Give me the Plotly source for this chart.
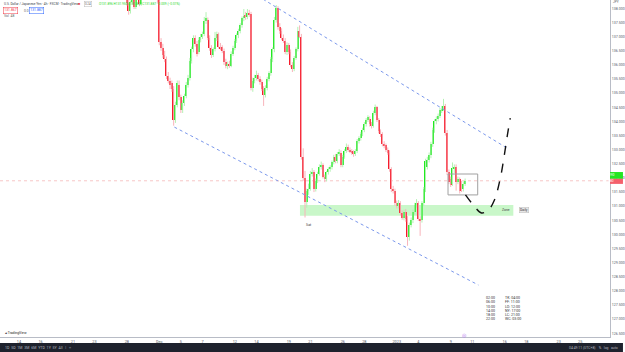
import plotly.graph_objects as go

# ---------------- data (USD/JPY, 4h bars) ----------------
first_bar = 58  # bar index of first candle (bar 0 = Nov 14 00:00, 6 bars per trading day)

opens = [139.05,138.70,138.45,138.20,137.90,138.22,138.48,138.05,138.40,138.72,
         138.15,138.60,138.92,139.25,139.40,139.30,139.50,139.60,139.35,138.65,
         138.30,136.80,136.60,136.35,136.20,135.60,135.45,135.35,135.15,134.05,
         134.60,135.30,134.85,134.40,134.65,134.90,135.30,135.55,136.15,136.55,
         136.95,136.75,136.45,136.90,137.00,137.10,137.55,137.60,136.95,136.60,
         136.35,136.55,136.95,137.10,136.65,136.62,136.50,136.10,135.95,136.05,
         135.98,136.40,136.60,136.85,137.05,137.20,137.40,137.65,137.75,137.70,
         137.85,137.80,135.20,135.45,135.55,135.65,135.50,135.40,135.15,134.95,
         135.20,135.50,135.70,136.20,136.55,137.60,138.00,137.35,137.20,136.95,
         136.85,136.45,136.70,136.45,136.00,135.85,136.25,136.55,137.20,137.00,
         132.75,132.00,131.15,131.55,131.62,132.15,132.20,131.60,131.90,132.15,
         132.40,132.45,132.05,131.95,132.20,132.30,132.38,132.55,132.75,132.60,
         132.85,132.90,132.45,132.75,132.95,133.10,133.00,132.95,132.90,132.85,
         132.95,133.30,133.40,133.55,133.70,133.90,134.05,134.10,133.90,133.85,
         134.30,134.50,134.05,133.65,133.55,133.20,133.15,133.00,132.90,132.30,
         131.60,131.55,131.10,131.00,131.10,130.75,130.60,130.80,130.55,129.90,
         130.35,130.50,130.80,131.05,131.10,130.55,130.50,131.10,131.60,132.40,
         132.65,132.80,133.20,133.70,134.00,134.10,134.20,134.40,134.45,134.55,
         133.60,132.20,131.95,131.80,132.35,132.40,131.85,131.95,131.80,131.60,
         131.80]
highs = [139.15,138.80,138.55,138.30,138.28,138.55,138.55,138.45,138.80,138.80,
         138.65,139.00,139.35,139.55,139.70,139.60,139.85,139.80,139.45,138.75,
         138.40,136.95,136.75,136.50,136.30,135.75,135.55,135.45,135.25,134.70,
         135.45,135.45,134.95,134.75,134.98,135.40,135.65,136.25,136.65,137.05,
         137.05,136.85,136.98,137.10,137.18,137.70,137.87,137.68,137.05,136.70,
         136.62,137.17,137.18,137.15,136.78,136.70,136.58,136.22,136.12,136.15,
         136.48,136.68,136.92,137.12,137.28,137.48,137.72,137.98,137.88,137.98,
         137.95,137.88,135.55,135.65,135.80,135.72,135.60,135.48,135.25,135.28,
         135.58,135.78,136.28,136.62,137.70,138.12,138.08,137.48,137.30,137.08,
         136.95,136.80,136.78,136.55,136.10,136.32,136.62,137.35,137.40,137.10,
         133.05,132.25,131.62,131.80,132.25,132.35,132.28,131.98,132.22,132.48,
         132.58,132.52,132.12,132.25,132.38,132.45,132.62,132.82,132.85,132.92,
         133.02,132.98,132.82,133.02,133.22,133.18,133.08,133.02,132.98,133.02,
         133.38,133.48,133.62,133.78,133.98,134.12,134.22,134.18,133.98,134.38,
         134.60,134.55,134.12,133.72,133.62,133.30,133.22,133.08,132.98,132.38,
         131.72,131.62,131.20,131.22,131.18,130.85,130.88,130.90,130.65,130.42,
         130.60,130.88,131.12,131.25,131.18,130.65,131.18,131.68,132.68,132.75,
         132.90,133.28,133.78,134.08,134.18,134.28,134.48,134.55,134.80,134.62,
         133.70,132.30,132.05,132.55,132.48,132.48,132.05,132.02,131.90,131.88,
         131.98]
lows = [138.60,138.35,138.10,137.78,137.82,138.15,137.98,137.98,138.32,138.08,
        138.10,138.50,138.85,139.10,139.20,139.15,139.35,139.20,138.55,138.20,
        136.70,136.50,136.25,136.10,135.50,135.35,135.15,135.05,133.85,133.95,
        134.50,134.75,134.30,134.30,134.55,134.82,135.20,135.45,136.05,136.45,
        136.65,136.30,136.38,136.80,136.92,137.02,137.45,136.88,136.50,136.25,
        136.28,136.48,136.85,136.58,136.52,136.42,136.00,135.88,135.85,135.90,
        135.92,136.32,136.52,136.78,136.95,137.12,137.32,137.55,137.60,137.62,
        137.70,135.10,135.05,135.35,135.45,135.42,135.30,135.08,134.55,134.85,
        135.10,135.42,135.62,136.10,136.45,137.50,137.25,137.10,136.88,136.78,
        136.38,136.35,136.38,135.92,135.75,135.78,136.18,136.48,136.95,132.65,
        131.90,130.60,130.95,131.40,131.55,132.05,131.50,131.52,131.82,132.08,
        132.30,131.98,131.85,131.88,132.12,132.22,132.30,132.48,132.52,132.52,
        132.78,132.38,132.38,132.68,132.88,132.92,132.88,132.82,132.75,132.78,
        132.88,133.22,133.32,133.48,133.62,133.82,133.98,133.82,133.75,133.78,
        134.22,133.98,133.58,133.45,133.12,133.05,132.92,132.82,132.22,131.50,
        131.45,131.02,130.92,130.92,130.68,130.52,130.50,130.45,129.60,129.78,
        130.25,130.40,130.70,130.95,130.48,129.95,130.42,131.00,131.50,132.30,
        132.55,132.70,133.10,133.60,133.90,134.00,134.12,134.30,134.38,133.50,
        132.10,131.78,131.68,131.72,132.18,131.55,131.78,131.45,131.50,131.52,
        131.72]
closes = [138.70,138.45,138.20,137.90,138.22,138.48,138.05,138.40,138.72,138.15,
          138.60,138.92,139.25,139.40,139.30,139.50,139.60,139.35,138.65,138.30,
          136.80,136.60,136.35,136.20,135.60,135.45,135.30,135.15,134.05,134.60,
          135.35,134.85,134.40,134.65,134.90,135.30,135.55,136.15,136.55,136.95,
          136.75,136.40,136.90,137.00,137.10,137.55,137.65,136.95,136.60,136.35,
          136.55,136.95,137.10,136.65,136.60,136.50,136.10,135.95,136.05,135.98,
          136.40,136.60,136.85,137.05,137.20,137.40,137.65,137.75,137.70,137.85,
          137.80,135.20,135.45,135.55,135.65,135.50,135.40,135.15,134.95,135.20,
          135.50,135.70,136.20,136.55,137.60,138.00,137.35,137.20,136.95,136.85,
          136.45,136.70,136.45,136.00,135.85,136.25,136.55,137.20,137.00,132.75,
          132.00,131.15,131.55,131.62,132.15,132.20,131.60,131.90,132.15,132.40,
          132.45,132.05,131.95,132.20,132.30,132.38,132.55,132.75,132.60,132.85,
          132.90,132.45,132.75,132.95,133.10,133.00,132.95,132.90,132.85,132.95,
          133.30,133.40,133.55,133.70,133.90,134.05,134.15,133.90,133.85,134.30,
          134.50,134.05,133.65,133.55,133.20,133.15,133.00,132.90,132.30,131.60,
          131.55,131.10,131.00,131.10,130.75,130.60,130.80,130.55,129.90,130.35,
          130.50,130.80,131.05,131.10,130.55,130.50,131.10,131.60,132.60,132.65,
          132.80,133.20,133.70,134.00,134.10,134.20,134.40,134.45,134.55,133.60,
          132.20,131.85,131.75,132.35,132.40,131.85,131.95,131.55,131.60,131.80,
          131.90]

# time axis: trading-day index of each label and its text
tick_days = [0, 2, 5, 7, 10, 13, 15, 17, 20, 22, 25, 27, 30, 32, 35, 37, 40, 42, 45, 47, 50, 52]
tick_text = ["14", "16", "21", "23", "28", "Dec", "5", "7", "12", "14", "19", "21",
             "26", "28", "2023", "4", "9", "11", "16", "18", "23", "25"]
bars_per_day = 6

# drawings (bar index, price)
upper_line_x = [130.0, 272.0]
upper_line_y = [138.55, 133.03]
lower_line_x = [86.4, 255.4]
lower_line_y = [133.80, 128.21]
zone_x = [156.2, 274.8]
zone_y = [130.66, 131.04]
box_x = [238.5, 255.0]
box_y = [131.40, 132.14]
path_x = [248.2, 252.6, 257.1, 261.0, 264.3, 267.6, 269.8, 271.5, 273.1]
path_y = [131.40, 131.04, 130.76, 130.87, 131.22, 132.00, 132.81, 133.52, 134.12]
last_price = 131.90
label_prices = [132.09, 131.88]
low_note = (161.2, 130.34, "Sat")

session_left = ["02:00", "06:00", "10:00", "14:00", "18:00", "22:00"]
session_right = ["TK: 04:00", "FF: 11:00", "LO: 12:00", "NY: 17:00", "LC: 21:00", "WC: 03:00"]

# ---------------- figure ----------------
W, H = 625, 352
PLOT_R, PLOT_B = 612, 337
X0_PX, PX_PER_BAR = 19.0, 1.805
x_lo = -X0_PX / PX_PER_BAR
x_hi = (PLOT_R - X0_PX) / PX_PER_BAR
y_lo, y_hi = 126.37, 138.30

def px(x):  # pixel x -> paper
    return x / PLOT_R

def py(y):  # pixel y -> paper
    return (PLOT_B - y) / PLOT_B

UP, DN = "#1fea1f", "#f71b2b"
UP_W, DN_W = "#b4f2b4", "#f8b4bb"
FONT = "Roboto"

idx = [first_bar + k for k in range(len(closes))]
up = [c >= o for o, c in zip(opens, closes)]

fig = go.Figure()

# wicks
for flag, col in ((True, UP_W), (False, DN_W)):
    wx, wy = [], []
    for i, h, l, u in zip(idx, highs, lows, up):
        if u == flag:
            wx += [i, i, None]
            wy += [l, h, None]
    fig.add_trace(go.Scatter(x=wx, y=wy, mode="lines", line=dict(color=col, width=1),
                             hoverinfo="skip", showlegend=False))

# bodies
base = [min(o, c) for o, c in zip(opens, closes)]
hgt = [max(abs(c - o), 0.03) for o, c in zip(opens, closes)]
fig.add_trace(go.Bar(x=idx, y=hgt, base=base, width=0.78,
                     marker=dict(color=[UP if u else DN for u in up], line=dict(width=0)),
                     hoverinfo="skip", showlegend=False))

# trend lines
for lx, ly in ((upper_line_x, upper_line_y), (lower_line_x, lower_line_y)):
    fig.add_trace(go.Scatter(x=lx, y=ly, mode="lines",
                             line=dict(color="#7b98ec", width=1, dash="dot"),
                             hoverinfo="skip", showlegend=False))

# box
fig.add_trace(go.Scatter(x=[box_x[0], box_x[1], box_x[1], box_x[0], box_x[0]],
                         y=[box_y[0], box_y[0], box_y[1], box_y[1], box_y[0]],
                         mode="lines", line=dict(color="#a0a0a0", width=1),
                         hoverinfo="skip", showlegend=False))

# projected path
fig.add_trace(go.Scatter(x=path_x, y=path_y, mode="lines",
                         line=dict(color="#111111", width=1.4, dash="dash", shape="spline"),
                         hoverinfo="skip", showlegend=False))

shapes = [
    dict(type="rect", xref="x", yref="y", x0=zone_x[0], x1=zone_x[1], y0=zone_y[0], y1=zone_y[1],
         fillcolor="#c9f7c9", line=dict(width=0), layer="below"),
    dict(type="line", xref="paper", yref="y", x0=0, x1=1, y0=last_price, y1=last_price,
         line=dict(color="#f7c6c6", width=1, dash="dot"), layer="below"),
    # price labels on axis
    dict(type="rect", xref="paper", yref="y", x0=1.0, x1=W / PLOT_R,
         y0=label_prices[0] - 0.12, y1=label_prices[0] + 0.12, fillcolor="#22e622", line=dict(width=0)),
    dict(type="rect", xref="paper", yref="y", x0=1.0, x1=W / PLOT_R,
         y0=label_prices[1] - 0.09, y1=label_prices[1] + 0.09, fillcolor="#f4606c", line=dict(width=0)),
    # bottom toolbar
    dict(type="rect", xref="paper", yref="paper", x0=0, x1=W / PLOT_R, y0=py(352), y1=py(343),
         fillcolor="#1e222d", line=dict(width=0)),
]

anns = []
def txt(x, y, s, size=4, color="#555a66", xanchor="left", **kw):
    anns.append(dict(x=px(x), y=py(y), xref="paper", yref="paper", text=s, showarrow=False,
                     xanchor=xanchor, yanchor="middle", font=dict(size=size, color=color, family=FONT), **kw))

# header legend
txt(2, 4, "U.S. Dollar / Japanese Yen · 4h · FXCM · TradingView", size=3.2, color="#3a3f4b")
anns.append(dict(x=px(76), y=py(4), xref="paper", yref="paper", text="■", showarrow=False,
                 font=dict(size=3.6, color="#f23645"), xanchor="left", yanchor="middle"))
anns.append(dict(x=px(84), y=py(4), xref="paper", yref="paper", text="0.24", showarrow=False,
                 font=dict(size=3.0, color="#666"), xanchor="left", yanchor="middle",
                 bordercolor="#bbbbbb", borderwidth=0.5, borderpad=0.4))
txt(97, 4, "O131.896 H131.950 L131.822 C131.887 −0.009 (−0.01%)", size=3.2, color="#27d827")
anns.append(dict(x=px(3), y=py(10.5), xref="paper", yref="paper", text="131.867", showarrow=False,
                 font=dict(size=3.4, color="#f23645"), xanchor="left", yanchor="middle",
                 bordercolor="#f23645", borderwidth=0.5, borderpad=0.8))
txt(22, 10.5, "0.0", size=3.4, color="#666")
anns.append(dict(x=px(29), y=py(10.5), xref="paper", yref="paper", text="131.887", showarrow=False,
                 font=dict(size=3.4, color="#2962ff"), xanchor="left", yanchor="middle",
                 bordercolor="#2962ff", borderwidth=0.5, borderpad=0.8))
txt(2, 16.5, "Vol  48", size=3.4, color="#666")

# axis price labels text
anns.append(dict(x=px(618.5), y=label_prices[0], xref="paper", yref="y", text=f"{label_prices[0]:.3f}",
                 showarrow=False, font=dict(size=3.4, color="#ffffff", family=FONT)))
anns.append(dict(x=px(618.5), y=label_prices[1], xref="paper", yref="y", text=f"{label_prices[1]:.3f}",
                 showarrow=False, font=dict(size=3.2, color="#ffffff", family=FONT)))
txt(618, 2, "JPY", size=3.2, color="#666", xanchor="center")

# chart notes
anns.append(dict(x=low_note[0], y=low_note[1], xref="x", yref="y", text=low_note[2], showarrow=False,
                 font=dict(size=3.6, color="#444", family=FONT)))
anns.append(dict(x=zone_x[1] - 0.8, y=sum(zone_y) / 2, xref="x", yref="y", text="Zone", showarrow=False,
                 font=dict(size=3.4, color="#444", family=FONT), xanchor="right"))
anns.append(dict(x=zone_x[1] + 3, y=sum(zone_y) / 2, xref="x", yref="y", text="Daily", showarrow=False,
                 font=dict(size=3.4, color="#333", family=FONT), xanchor="left",
                 bgcolor="#e6e6e6", bordercolor="#bdbdbd", borderwidth=0.5, borderpad=0.6))

# session times block
for k, (a, b) in enumerate(zip(session_left, session_right)):
    yy = 298.3 + k * 4.15
    txt(486, yy, a, size=3.6, color="#333")
    txt(505, yy, b, size=3.6, color="#333")

# logo and toolbar text
txt(3, 333, "▰ TradingView", size=3.4, color="#222")
txt(3, 347.5, "1D  5D  1M  3M  6M  YTD  1Y  5Y  All   |   ⌗", size=3.6, color="#b2b5be")
txt(622, 347.5, "04:49:11 (UTC+8)    %   log   auto", size=3.4, color="#b2b5be", xanchor="right")
txt(466, 334.5, "◎", size=5, color="#b57bf0", xanchor="center")

fig.update_layout(
    width=W, height=H,
    margin=dict(l=0, r=W - PLOT_R, t=0, b=H - PLOT_B),
    paper_bgcolor="white", plot_bgcolor="white",
    barmode="overlay", bargap=0,
    showlegend=False,
    shapes=shapes, annotations=anns,
    font=dict(family=FONT, size=4, color="#555a66"),
    xaxis=dict(range=[x_lo, x_hi], showgrid=False, zeroline=False,
               tickvals=[d * bars_per_day for d in tick_days], ticktext=tick_text,
               tickfont=dict(size=3.8, color="#555a66"), ticks="", ticklen=0,
               showline=True, linecolor="#b8bcc6", linewidth=1, fixedrange=True),
    yaxis=dict(range=[y_lo, y_hi], side="right", showgrid=False, zeroline=False,
               tick0=0, dtick=0.5, tickformat=".3f",
               tickfont=dict(size=3.6, color="#555a66"), ticks="", ticklen=0,
               showline=True, linecolor="#b8bcc6", linewidth=1, fixedrange=True),
)

fig.write_html("out.html")
